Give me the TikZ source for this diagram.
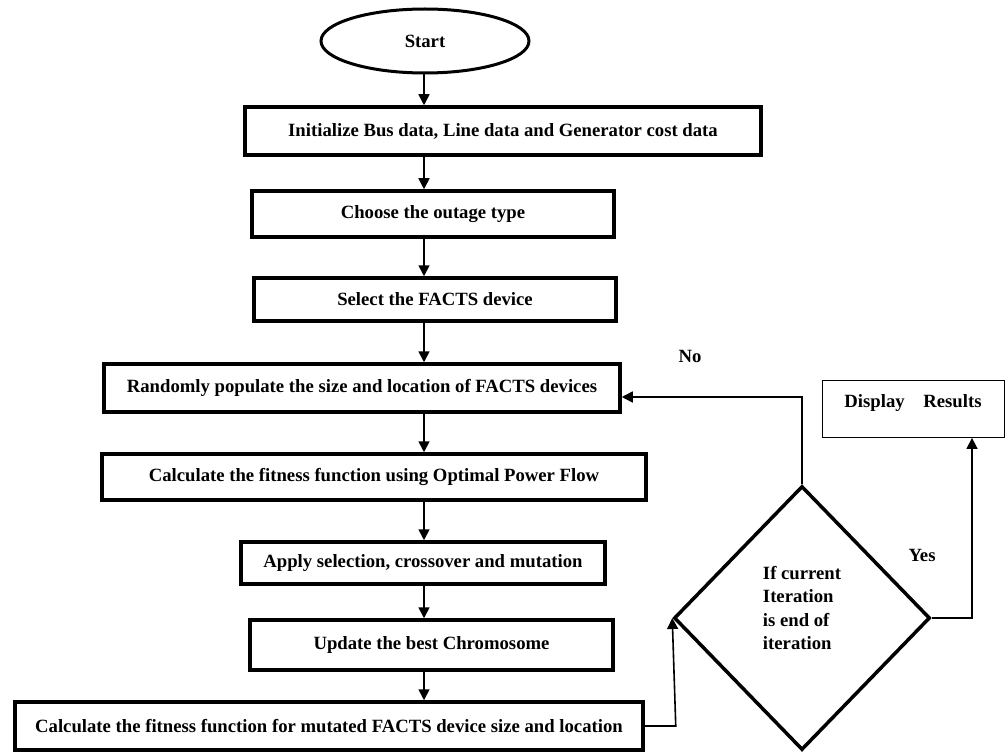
\documentclass[tikz,border=0pt]{standalone}
\usepackage{fontspec}
\setmainfont{Liberation Serif}
\usetikzlibrary{shapes.geometric,arrows.meta}

\begin{document}
\begin{tikzpicture}[x=1pt,y=-1pt,
		every node/.style={font=\bfseries\fontsize{18.7}{23.5}\selectfont},
		stepbox/.style={draw, line width=3.5pt, inner sep=0pt},
		flow/.style={line width=1.6pt, -{Triangle[length=11pt,width=11pt]}}]
		%%%%% START %%%%%
		\useasboundingbox (0,0) rectangle (1006,754);
		\coordinate (axis) at (424,0);
		
		\node[draw, ellipse, line width=3pt, minimum width=208, minimum height=64, inner sep=0pt] (start) at (425,41) {Start};
		
		\node[stepbox, minimum width=516, minimum height=48] (init) at (503,131) {Initialize Bus data, Line data and Generator cost data};
		\node[stepbox, minimum width=362, minimum height=46] (outage) at (433,214) {Choose the outage type};
		\node[stepbox, minimum width=362, minimum height=43] (facts) at (435,299.5) {Select the FACTS device};
		\node[stepbox, minimum width=516, minimum height=48] (populate) at (362,388) {Randomly populate the size and location of FACTS devices};
		\node[stepbox, minimum width=544, minimum height=46] (fitopf) at (374,477) {Calculate the fitness function using Optimal Power Flow};
		\node[stepbox, minimum width=364, minimum height=42] (operators) at (423,563) {Apply selection, crossover and mutation};
		\node[stepbox, minimum width=363, minimum height=50] (update) at (431.5,645) {Update the best Chromosome};
		\node[stepbox, minimum width=628, minimum height=48] (fitmut) at (329,726) {Calculate the fitness function for mutated FACTS device size and location};
		
		\node[draw, diamond, line width=3.5pt, minimum width=256, minimum height=264, inner sep=0pt, align=left] (decide) at (802,618) {If current\\Iteration\\is end of\\iteration\\[-3pt]\mbox{}};
		\node[draw, line width=0.8pt, minimum width=182, minimum height=57, text depth=15pt, inner sep=2pt] (display) at (913,409) {Display\quad Results};
		
		\node (nolbl) at (690,356) {No};
		\node (yeslbl) at (922,555) {Yes};
		
		% main flow
		\draw[flow] (start.south -| axis) -- (init.north -| axis);
		\foreach \a/\b in {init/outage, outage/facts, facts/populate, populate/fitopf, fitopf/operators, operators/update, update/fitmut}
			\draw[flow] (\a.south -| axis) -- (\b.north -| axis);
		
		% loop back and exit
		\coordinate (noturn) at (802,397);
		\coordinate (yesturn) at (972,0);
		\draw[flow] (fitmut.east) -- ++(31,0) -- (decide.west);
		\draw[flow] (decide.north) -- (noturn) -- (noturn -| populate.east);
		\draw[flow] (decide.east) -- (decide.east -| yesturn) -- (display.south -| yesturn);
		
		%%%%% END %%%%%
\end{tikzpicture}
\end{document}
